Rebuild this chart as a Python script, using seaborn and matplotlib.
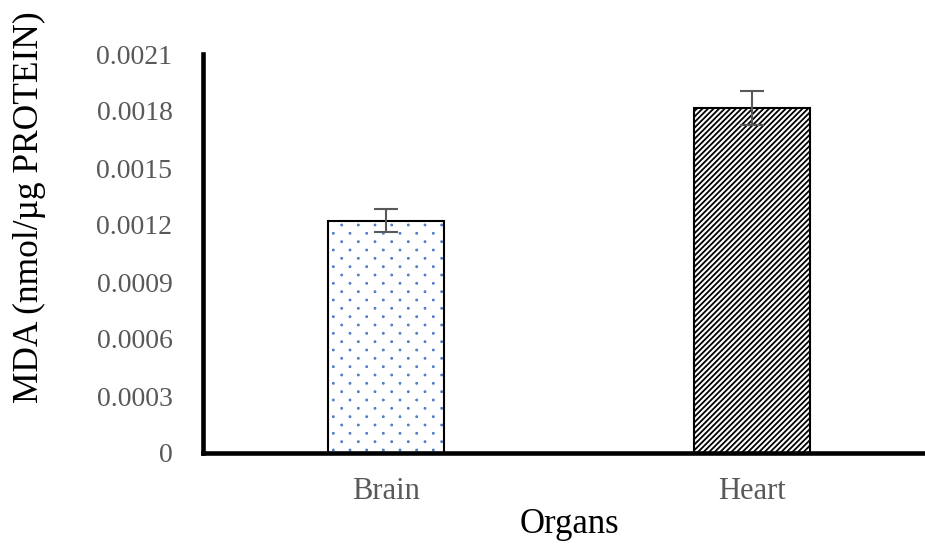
import numpy as np
import pandas as pd
import matplotlib
matplotlib.use("Agg")
import matplotlib.pyplot as plt
import matplotlib.hatch as mhatch
from matplotlib.path import Path
from matplotlib.ticker import MultipleLocator, FuncFormatter
import seaborn as sns

# ---- data ----
organs = ["Brain", "Heart"]
mda = [0.001223, 0.001814]
mda_err = [0.0000605, 0.0000895]
hatches = [".", "//////"]
hatch_colors = ["#4472C4", "#000000"]


# ---- staggered dot hatch (rows twice as dense as columns) ----
class StaggeredDots(mhatch.HatchPatternBase):
    def __init__(self, hatch, density):
        n = hatch.count('.')
        self.rows = 12 * n
        self.cols = 6 * n
        circ = Path.unit_circle()
        self.sv = circ.vertices
        self.sc = circ.codes
        if n == 0:
            self.num_vertices = 0
            return
        even = self.rows // 2 + 1
        odd = self.rows // 2
        self.num_shapes = even * (self.cols + 1) + odd * self.cols
        self.num_vertices = self.num_shapes * len(self.sv)

    def set_vertices_and_codes(self, vertices, codes):
        r = 0.005
        dy = 1.0 / self.rows
        dx = 1.0 / self.cols
        sv = self.sv * r
        nv = len(self.sv)
        cur = 0
        for row in range(self.rows + 1):
            if row % 2 == 0:
                xs = np.linspace(0, 1, self.cols + 1)
            else:
                xs = np.linspace(dx / 2, 1 - dx / 2, self.cols)
            y = row * dy
            for x in xs:
                vertices[cur:cur + nv] = sv + (x, y)
                codes[cur:cur + nv] = self.sc
                cur += nv

    get_vertices_and_codes = set_vertices_and_codes


mhatch._hatch_types[:] = [t for t in mhatch._hatch_types
                          if t is not mhatch.SmallFilledCircles] + [StaggeredDots]

sns.set_style("white")
plt.rcParams['font.family'] = ['Liberation Serif', 'DejaVu Serif']
plt.rcParams['hatch.linewidth'] = 1.3

df = pd.DataFrame({"Organ": organs, "MDA": mda})

fig = plt.figure(figsize=(9.25, 5.45), dpi=100)
ax = fig.add_axes([203 / 925, (545 - 453) / 545, 732 / 925, (453 - 54) / 545])

# hatched fill
sns.barplot(data=df, x="Organ", y="MDA", ax=ax, width=0.317, errorbar=None,
            color="white", linewidth=0)
for p, h, hc in zip(ax.patches, hatches, hatch_colors):
    p.set_hatch(h)
    p.set_edgecolor(hc)
    p.set_linewidth(0)

# outlines
sns.barplot(data=df, x="Organ", y="MDA", ax=ax, width=0.317, errorbar=None,
            fill=False, color="black", linewidth=1.5)

ax.errorbar(x=range(len(organs)), y=mda, yerr=mda_err, fmt='none',
            ecolor='#595959', elinewidth=1.5, capsize=8.5, capthick=1.5, zorder=5)

ax.set_xlim(-0.5, 1.5)
ax.set_ylim(0, 0.0021)
ax.yaxis.set_major_locator(MultipleLocator(0.0003))
ax.yaxis.set_major_formatter(FuncFormatter(lambda v, p: "0" if abs(v) < 1e-12 else f"{v:.4f}"))

for s in ["top", "right"]:
    ax.spines[s].set_visible(False)
for s in ["left", "bottom"]:
    ax.spines[s].set_linewidth(3.3)
    ax.spines[s].set_color("black")

ax.tick_params(axis='y', length=0, pad=22, labelsize=20, labelcolor='#595959')
ax.tick_params(axis='x', length=0, pad=17, labelsize=22, labelcolor='#595959')

ax.set_xlabel("Organs", fontsize=25, color='black', labelpad=2)
ax.set_ylabel("MDA (nmol/µg PROTEIN)", fontsize=25.5, color='black')
ax.yaxis.set_label_coords(-0.214, 0.617)
ax.grid(False)

fig.savefig("out.png", dpi=100)
